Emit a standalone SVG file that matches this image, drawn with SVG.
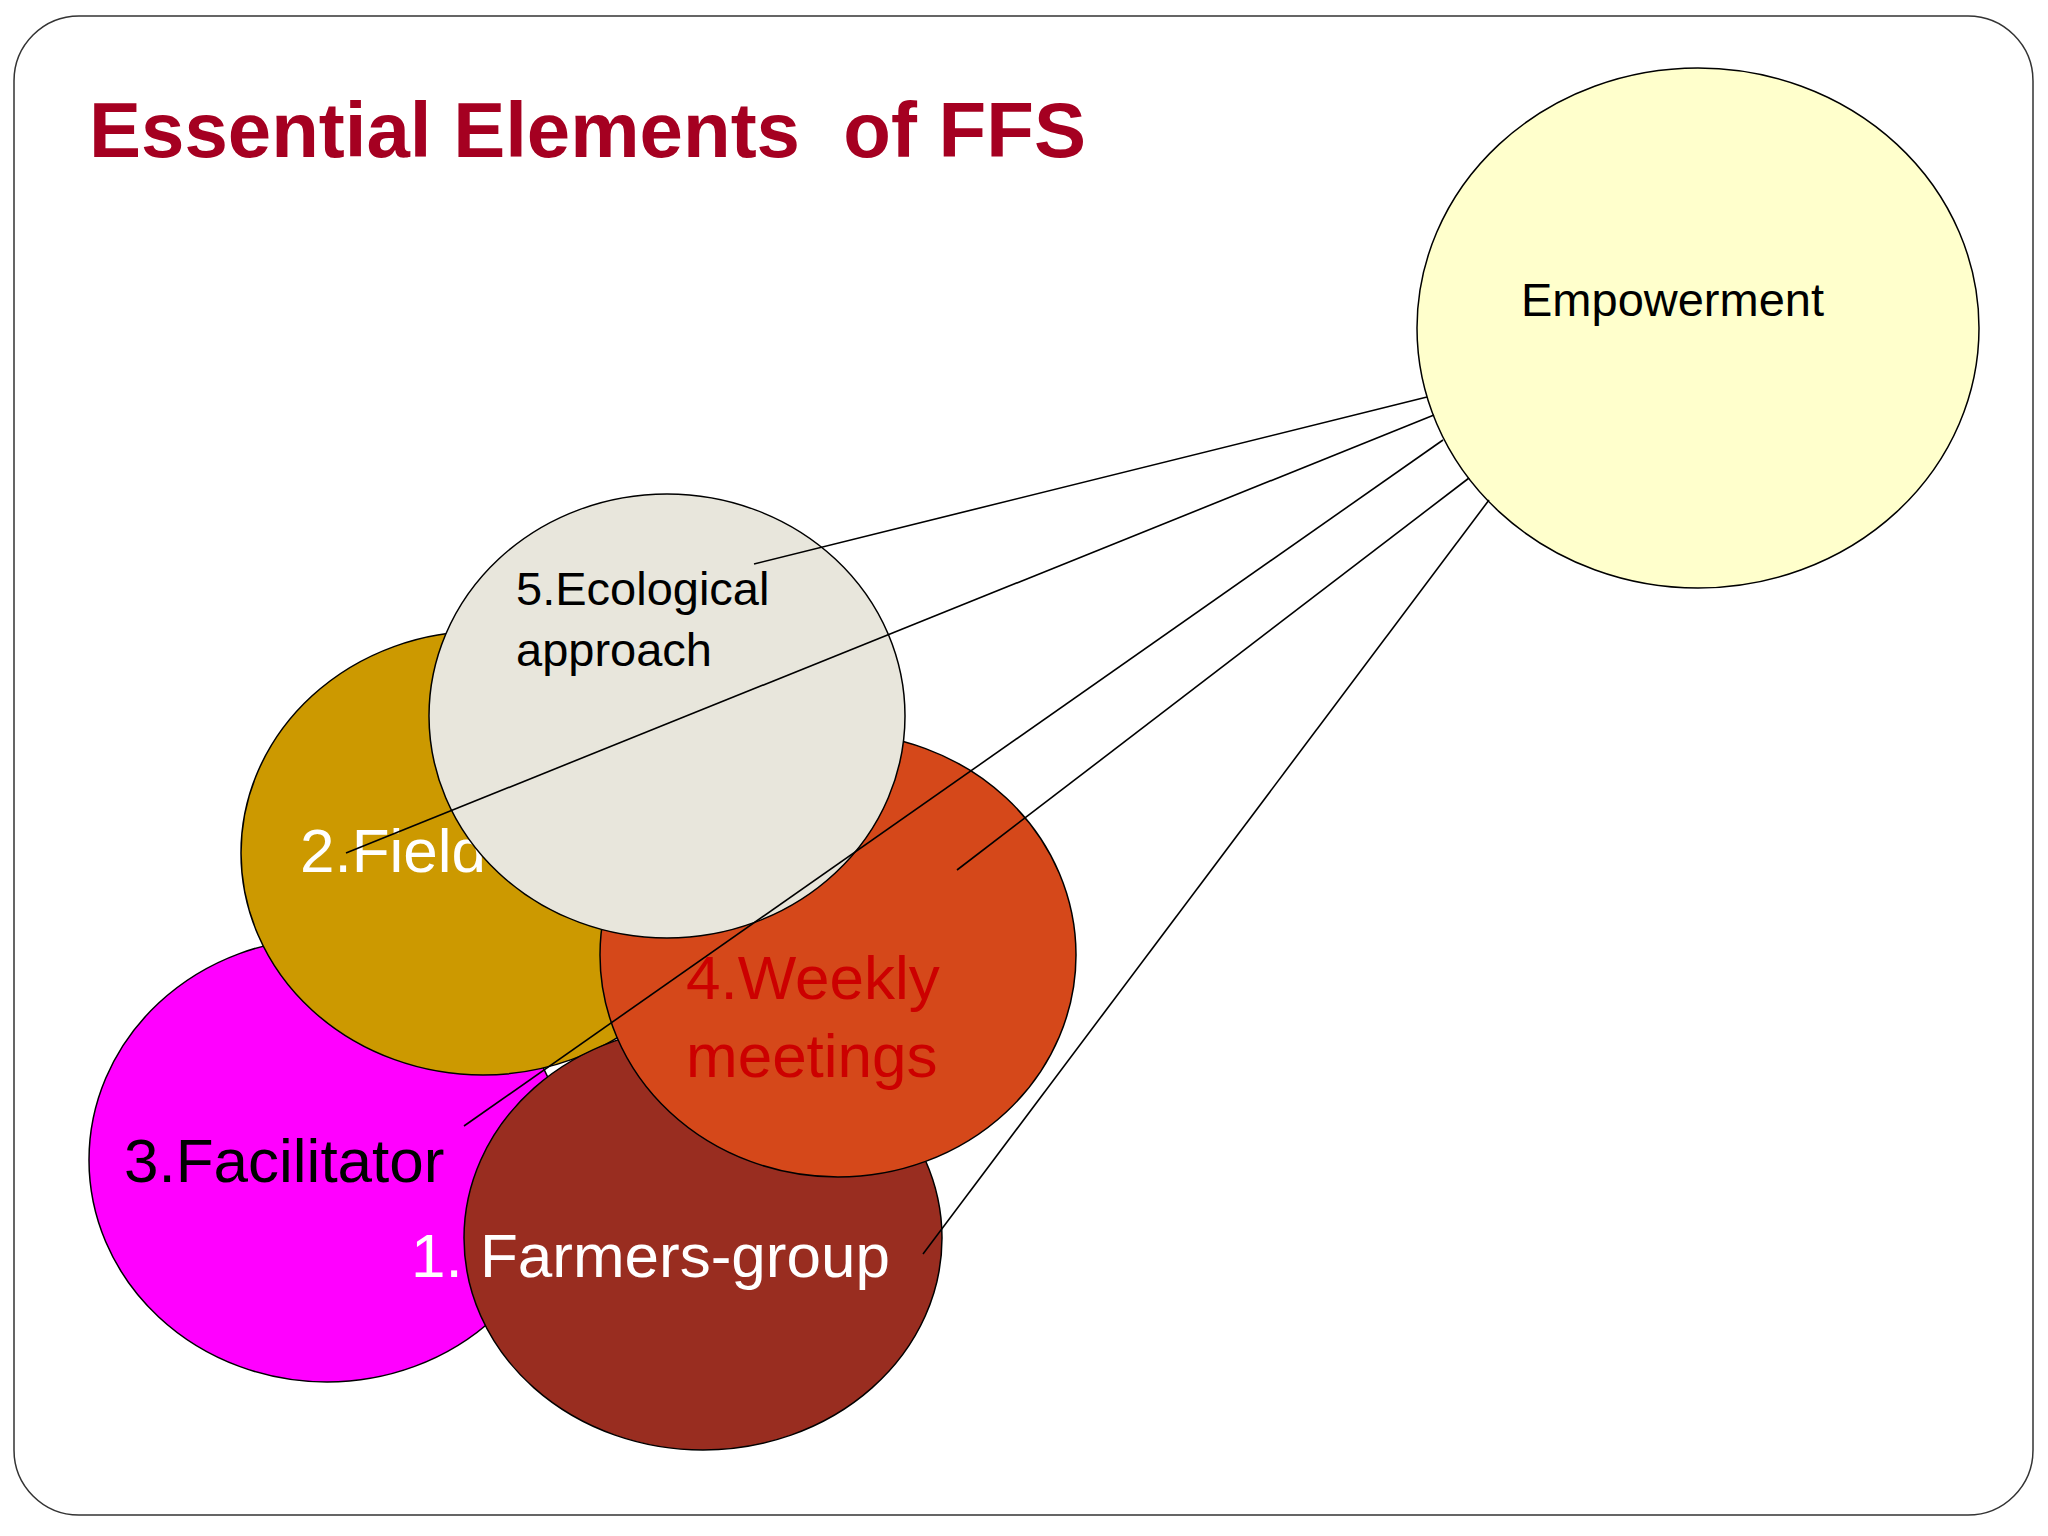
<svg xmlns="http://www.w3.org/2000/svg" width="2048" height="1536" viewBox="0 0 2048 1536">
<style>
.n{stroke:#000;stroke-width:1.5}
.t{font-family:"Liberation Sans",Arial,sans-serif}
.big{font-size:62px}
.sm{font-size:47px}
.c line{stroke:#000;stroke-width:1.6}
</style>
<rect x="0" y="0" width="2048" height="1536" fill="#fff"/>
<rect x="14" y="16" width="2019" height="1499" rx="65" fill="#fff" stroke="#333" stroke-width="1.5"/>
<text x="89" y="157" class="t" font-size="78" font-weight="bold" fill="#A50021" xml:space="preserve">Essential Elements  of FFS</text>
<g id="empowerment">
<ellipse cx="1698" cy="328" rx="281" ry="260" fill="#FFFFCC" class="n"/>
<text x="1521" y="316" class="t sm">Empowerment</text>
</g>
<g id="facilitator">
<ellipse cx="327" cy="1160" rx="238" ry="222" fill="#FF00FF" class="n"/>
<text x="124" y="1182" class="t big">3.Facilitator</text>
</g>
<g id="field">
<ellipse cx="483" cy="853" rx="242" ry="222" fill="#CC9900" class="n"/>
<text x="300" y="872" class="t big" fill="#fff">2.Field</text>
</g>
<g id="farmers">
<ellipse cx="703" cy="1238" rx="239" ry="212" fill="#992D20" class="n"/>
<text x="411" y="1277" class="t big" fill="#fff">1. Farmers-group</text>
</g>
<g id="weekly">
<ellipse cx="838" cy="955" rx="238" ry="222" fill="#D5481A" class="n"/>
<text x="686" y="999" class="t big" fill="#CC0000">4.Weekly</text>
<text x="686" y="1077" class="t big" fill="#CC0000">meetings</text>
</g>
<g id="ecological">
<ellipse cx="667" cy="716" rx="238" ry="222" fill="#E8E6DC" class="n"/>
<text x="516" y="605" class="t sm">5.Ecological</text>
<text x="516" y="666" class="t sm">approach</text>
</g>
<g class="c">
<line x1="754" y1="564" x2="1427" y2="397"/>
<line x1="346" y1="853" x2="1434" y2="415"/>
<line x1="464" y1="1126" x2="1443" y2="440"/>
<line x1="957" y1="870" x2="1469" y2="478"/>
<line x1="923" y1="1254" x2="1489" y2="500"/>
</g>
</svg>
